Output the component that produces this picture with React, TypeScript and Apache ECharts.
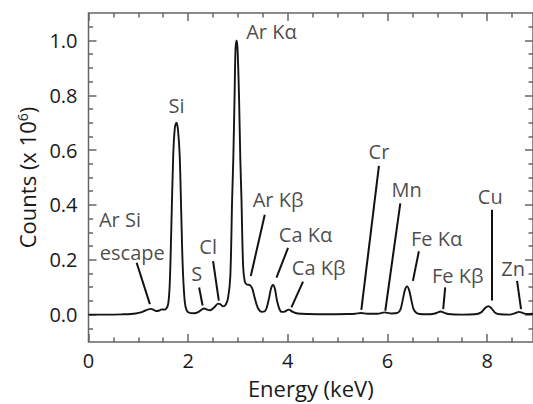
import React, { useEffect, useRef } from "react";
import * as echarts from "echarts";

// Spectrum: energy (keV) and counts (x 10^6)
const energy = [
  0, 0.4, 0.7, 0.85, 0.95, 1.05, 1.13, 1.2, 1.25, 1.3, 1.36, 1.42, 1.47, 1.52, 1.56,
  1.6, 1.63, 1.66, 1.7, 1.735, 1.765, 1.795, 1.83, 1.86, 1.89, 1.93, 1.97, 2.03, 2.12,
  2.2, 2.27, 2.32, 2.38, 2.44, 2.52, 2.6, 2.65, 2.7, 2.75, 2.8, 2.846, 2.882, 2.906,
  2.93, 2.95, 2.972, 2.992, 3.022, 3.046, 3.07, 3.102, 3.136, 3.176, 3.236, 3.287,
  3.337, 3.397, 3.477, 3.537, 3.577, 3.623, 3.663, 3.703, 3.743, 3.778, 3.828, 3.878,
  3.938, 4.018, 4.098, 4.198, 4.4, 4.8, 5.2, 5.35, 5.47, 5.6, 5.8, 5.94, 6.08, 6.202,
  6.263, 6.313, 6.353, 6.393, 6.433, 6.473, 6.523, 6.583, 6.65, 6.8, 6.93, 7.0, 7.064,
  7.13, 7.22, 7.5, 7.75, 7.88, 7.96, 8.026, 8.09, 8.16, 8.26, 8.45, 8.56, 8.637, 8.71,
  8.8, 8.92,
];
const counts = [
  0, 0, 0.001, 0.002, 0.004, 0.008, 0.014, 0.019, 0.021, 0.018, 0.013, 0.015, 0.019, 0.018, 0.021,
  0.04, 0.11, 0.3, 0.58, 0.685, 0.7, 0.675, 0.58, 0.38, 0.18, 0.05, 0.015, 0.006, 0.005,
  0.009, 0.018, 0.022, 0.018, 0.016, 0.026, 0.04, 0.037, 0.03, 0.035, 0.06, 0.14, 0.42, 0.57,
  0.785, 0.966, 1.0, 0.966, 0.785, 0.57, 0.42, 0.18, 0.12, 0.11, 0.108, 0.095,
  0.06, 0.025, 0.01, 0.012, 0.025, 0.06, 0.095, 0.108, 0.092, 0.055, 0.022, 0.01,
  0.011, 0.018, 0.01, 0.004, 0.002, 0.001, 0.002, 0.003, 0.006, 0.003, 0.003, 0.008, 0.004, 0.006,
  0.02, 0.06, 0.092, 0.103, 0.09, 0.058, 0.02, 0.006, 0.002, 0.001, 0.003, 0.007, 0.011,
  0.007, 0.002, 0, 0.001, 0.008, 0.024, 0.031, 0.022, 0.007, 0.001, 0, 0.005, 0.01, 0.006,
  0.002, 0.003,
];

// Axis ticks
const xMajorTicks = [0, 2, 4, 6, 8];
const xMinorTicks = [0.5, 1, 1.5, 2.5, 3, 3.5, 4.5, 5, 5.5, 6.5, 7, 7.5, 8.5];
const yMajorTicks = [0, 0.2, 0.4, 0.6, 0.8, 1.0];
const yMinorTicks = [
  -0.05, 0.05, 0.1, 0.15, 0.25, 0.3, 0.35, 0.45, 0.5, 0.55, 0.65, 0.7, 0.75, 0.85, 0.9,
  0.95, 1.05,
];

// Peak annotations (data coordinates)
const peakLabels = [
  "Ar Si", "escape", "Si", "S", "Cl", "Ar Kα", "Ar Kβ", "Ca Kα", "Ca Kβ", "Cr", "Mn",
  "Fe Kα", "Fe Kβ", "Cu", "Zn",
];
const labelX = [
  0.631, 0.878, 1.768, 2.174, 2.401, 3.671, 3.804, 4.355, 4.619, 5.828, 6.383, 6.984,
  7.411, 8.062, 8.523,
];
const labelY = [
  0.345, 0.225, 0.761, 0.15, 0.247, 1.032, 0.418, 0.291, 0.171, 0.596, 0.457, 0.279,
  0.141, 0.43, 0.168,
];
const leaderFrom = [
  [0.966, 0.189], [2.22, 0.099], [2.5, 0.195], [3.537, 0.364], [4.004, 0.243],
  [4.305, 0.12], [5.828, 0.542], [6.257, 0.406], [6.63, 0.231], [7.158, 0.099],
  [8.1, 0.382], [8.6, 0.123],
];
const leaderTo = [
  [1.232, 0.038], [2.29, 0.033], [2.615, 0.051], [3.257, 0.141], [3.772, 0.135],
  [4.072, 0.026], [5.475, 0.017], [5.956, 0.014], [6.51, 0.123], [7.118, 0.02],
  [8.1, 0.051], [8.68, 0.02],
];

const X_MIN = 0;
const X_MAX = 8.92;
const Y_MIN = -0.1;
const Y_MAX = 1.1;

const FONT = "Open Sans";
const TEXT = "#1a1a1a";
const AXIS = "#666";

export default function App() {
  const ref = useRef<HTMLDivElement>(null);

  useEffect(() => {
    document.body.style.margin = "0";
    if (!ref.current) return;
    const chart = echarts.init(ref.current, null, { renderer: "svg" });

    const xAx = (position: string, ticks: number[], len: number, labels: boolean, extra: any = {}) => ({
      type: "value",
      position,
      min: X_MIN,
      max: X_MAX,
      axisLine: { show: false, onZero: false },
      splitLine: { show: false },
      axisTick: { show: true, inside: true, length: len, customValues: ticks, lineStyle: { color: AXIS, width: 1.5 } },
      axisLabel: labels
        ? { show: true, customValues: ticks, fontSize: 20, color: TEXT, fontFamily: FONT, margin: 8 }
        : { show: false },
      ...extra,
    });
    const yAx = (position: string, ticks: number[], len: number, labels: boolean, extra: any = {}) => ({
      type: "value",
      position,
      min: Y_MIN,
      max: Y_MAX,
      axisLine: { show: false, onZero: false },
      splitLine: { show: false },
      axisTick: { show: true, inside: true, length: len, customValues: ticks, lineStyle: { color: AXIS, width: 1.5 } },
      axisLabel: labels
        ? {
            show: true,
            customValues: ticks,
            fontSize: 20,
            color: TEXT,
            fontFamily: FONT,
            margin: 11,
            formatter: (v: number) => v.toFixed(1),
          }
        : { show: false },
      ...extra,
    });

    chart.setOption({
      animation: false,
      grid: {
        left: 88.5,
        top: 13,
        width: 445,
        height: 332,
        show: true,
        borderColor: AXIS,
        borderWidth: 1.5,
        backgroundColor: "transparent",
      },
      xAxis: [
        xAx("bottom", xMajorTicks, 8, true, {
          name: "Energy (keV)",
          nameLocation: "middle",
          nameGap: 35,
          nameTextStyle: { fontSize: 22, color: TEXT, fontFamily: FONT },
        }),
        xAx("bottom", xMinorTicks, 4.5, false),
        xAx("top", xMajorTicks, 8, false),
        xAx("top", xMinorTicks, 4.5, false),
      ],
      yAxis: [
        yAx("left", yMajorTicks, 8, true, {
          name: "Counts (x 10{sup|6})",
          nameLocation: "middle",
          nameGap: 51,
          nameRotate: 90,
          nameTextStyle: {
            fontSize: 22,
            color: TEXT,
            fontFamily: FONT,
            rich: { sup: { fontSize: 14, color: TEXT, fontFamily: FONT, verticalAlign: "top" } },
          },
        }),
        yAx("left", yMinorTicks, 4.5, false),
        yAx("right", yMajorTicks, 8, false),
        yAx("right", yMinorTicks, 4.5, false),
      ],
      series: [
        {
          type: "line",
          xAxisIndex: 0,
          yAxisIndex: 0,
          data: energy.map((e, i) => [e, counts[i]]),
          showSymbol: false,
          smooth: 0.3,
          lineStyle: { color: "#151515", width: 1.9 },
          silent: true,
          markLine: {
            silent: true,
            symbol: ["none", "none"],
            label: { show: false },
            lineStyle: { color: "#111", width: 2, type: "solid" },
            data: leaderFrom.map((p, i) => [{ coord: p }, { coord: leaderTo[i] }]),
          },
        },
        {
          type: "scatter",
          xAxisIndex: 0,
          yAxisIndex: 0,
          symbol: "circle",
          symbolSize: 1,
          itemStyle: { color: "transparent" },
          silent: true,
          data: labelX.map((x, i) => ({ value: [x, labelY[i]], name: peakLabels[i] })),
          label: {
            show: true,
            position: "inside",
            formatter: "{b}",
            fontSize: 20,
            color: TEXT,
            fontFamily: FONT,
          },
        },
      ],
    });

    return () => chart.dispose();
  }, []);

  return <div ref={ref} style={{ width: 533, height: 404 }} />;
}
